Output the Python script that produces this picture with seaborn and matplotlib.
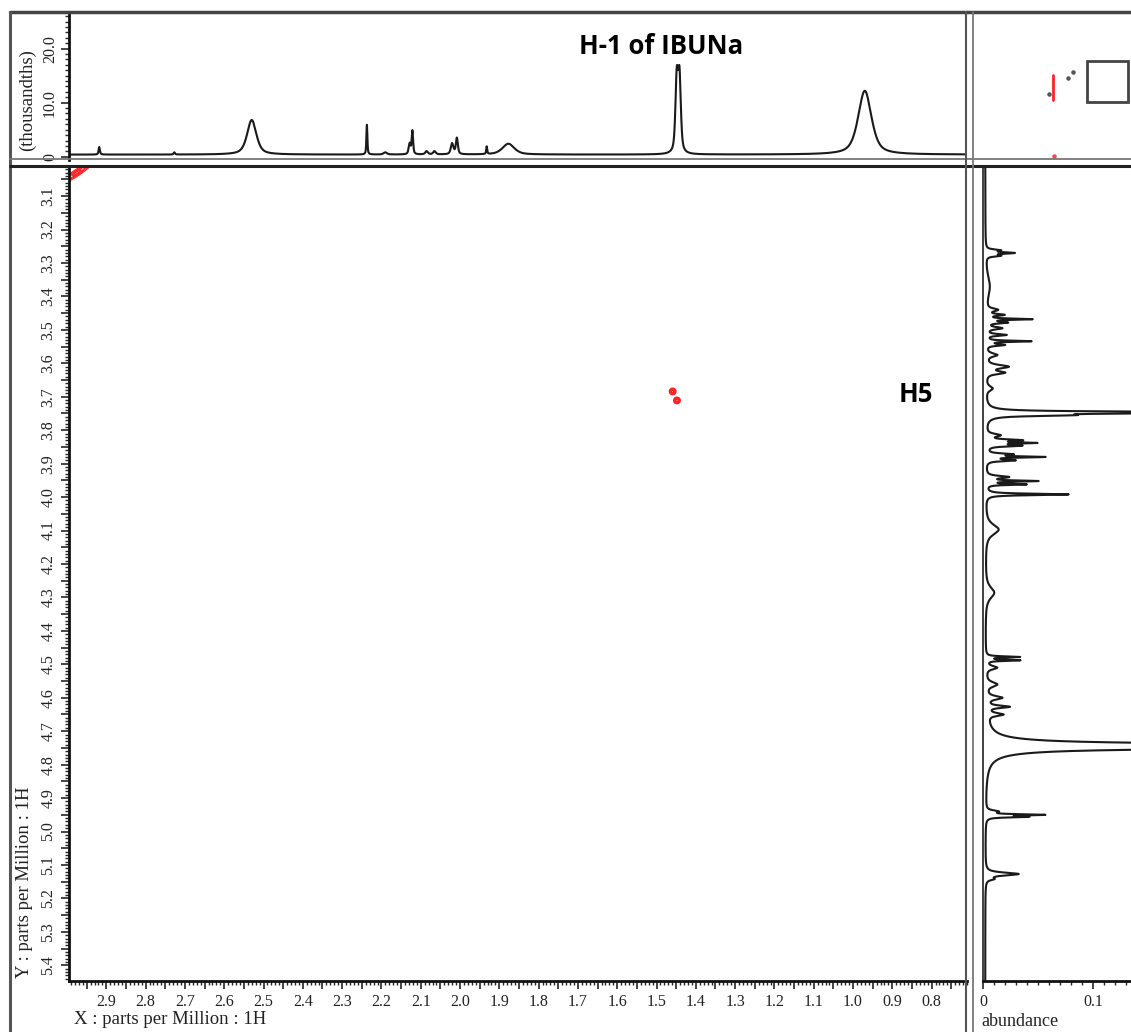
import numpy as np
import pandas as pd
import matplotlib
matplotlib.use("Agg")
import matplotlib.pyplot as plt
from matplotlib.lines import Line2D
from matplotlib.patches import Rectangle
from matplotlib.ticker import MultipleLocator, FuncFormatter
import seaborn as sns

# ---- F2 (horizontal) 1D trace: peak list (ppm, height in thousandths, half width in ppm)
f2_shift = [2.918, 2.727, 2.530, 2.237, 2.190, 2.128, 2.121, 2.085, 2.065,
            2.020, 2.008, 1.932, 1.877, 1.4485, 1.4415, 0.970]
f2_height = [1.4, 0.4, 6.4, 5.5, 0.4, 2.0, 4.3, 0.6, 0.6,
             2.0, 3.0, 1.4, 2.0, 13.6, 13.6, 11.8]
f2_width = [0.002, 0.002, 0.014, 0.0015, 0.005, 0.003, 0.002, 0.004, 0.004,
            0.004, 0.003, 0.0015, 0.018, 0.004, 0.004, 0.02]
f2_baseline = 0.4

# ---- F1 (vertical) 1D trace: peak list (ppm, abundance, half width in ppm)
f1_shift = [3.262, 3.270, 3.278, 3.370,
            3.440, 3.455, 3.468, 3.478, 3.495, 3.515, 3.534, 3.545,
            3.575, 3.610, 3.628, 3.675,
            3.747, 3.755,
            3.815, 3.830, 3.838, 3.846,
            3.872, 3.880, 3.890,
            3.940, 3.952, 3.962, 3.992,
            4.097, 4.286,
            4.478, 4.488, 4.510, 4.560, 4.600, 4.627, 4.650,
            4.745,
            4.940, 4.950, 4.956,
            5.127, 5.142]
f1_height = [0.012, 0.024, 0.012, 0.004,
             0.010, 0.015, 0.040, 0.018, 0.014, 0.018, 0.040, 0.016,
             0.010, 0.020, 0.016, 0.006,
             0.300, 0.060,
             0.012, 0.030, 0.040, 0.030,
             0.022, 0.050, 0.025,
             0.020, 0.045, 0.035, 0.075,
             0.012, 0.008,
             0.030, 0.030, 0.010, 0.010, 0.014, 0.020, 0.014,
             0.600,
             0.010, 0.050, 0.035,
             0.030, 0.006]
f1_width = [0.003, 0.0025, 0.003, 0.04,
            0.005, 0.003, 0.002, 0.003, 0.004, 0.003, 0.002, 0.003,
            0.006, 0.006, 0.005, 0.008,
            0.0025, 0.003,
            0.005, 0.003, 0.002, 0.003,
            0.003, 0.002, 0.003,
            0.004, 0.002, 0.002, 0.0025,
            0.018, 0.02,
            0.002, 0.002, 0.006, 0.008, 0.006, 0.004, 0.005,
            0.006,
            0.004, 0.002, 0.002,
            0.005, 0.004]
f1_baseline = 0.002

# ---- 2D cross peaks (F2 ppm, F1 ppm, relative intensity, widths)
cross_f2 = [1.459, 1.448]
cross_f1 = [3.684, 3.711]
cross_amp = [1.0, 1.0]
cross_sig_f2 = [0.005, 0.005]
cross_sig_f1 = [0.0058, 0.0058]

# diagonal ridge in the upper left corner (centre F2, centre F1, direction)
diag_f2 = [2.975]
diag_f1 = [3.030]
diag_dir = [(0.056, 0.045)]

# overview thumbnail (axes fraction units)
thumb_red_x = [0.50, 0.50]
thumb_red_y = [0.41, 0.58]
thumb_red_dot_x = [0.505]
thumb_red_dot_y = [0.03]
thumb_dot_x = [0.475, 0.595, 0.63]
thumb_dot_y = [0.455, 0.565, 0.60]
thumb_view = (0.72, 0.40, 0.26, 0.28)

annotations = ["H-1 of IBUNa", "H5"]

# ---------------------------------------------------------------------
sns.set_theme(style="white")
plt.rcParams["font.family"] = ["Liberation Serif", "DejaVu Serif"]
plt.rcParams["axes.linewidth"] = 1.8

W, H = 1131, 1032
fig = plt.figure(figsize=(W / 100, H / 100), dpi=100)
fig.patch.set_facecolor("white")


def frame(l, t, r, b):
    return [l / W, 1 - b / H, (r - l) / W, (b - t) / H]


def fpt(x, y):
    return x / W, 1 - y / H


def lineshape(ppm, centers, heights, widths, eta):
    out = np.zeros_like(ppm)
    for c, h, w in zip(centers, heights, widths):
        lor = 1.0 / (1.0 + ((ppm - c) / w) ** 2)
        gau = np.exp(-np.log(2) * ((ppm - c) / w) ** 2)
        out += h * (eta * lor + (1 - eta) * gau)
    return out


X_LIM = (2.995, 0.71)
Y_LIM = (5.447, 3.01)

ax_main = fig.add_axes(frame(69, 166, 967, 981))
ax_top = fig.add_axes(frame(69, 14, 967, 160))
ax_side = fig.add_axes(frame(983, 166, 1131, 981))
ax_thumb = fig.add_axes(frame(975, 14, 1131, 160))

TICK_SIZE = 11.5
TITLE_SIZE = 13.5
ANNOT_SIZE = 18.5

# ---- top trace
ppm2 = np.arange(0.70, 3.0, 0.0002)
top_df = pd.DataFrame({"ppm": ppm2,
                       "intensity": f2_baseline + lineshape(ppm2, f2_shift, f2_height, f2_width, 0.6)})
sns.lineplot(data=top_df, x="ppm", y="intensity", ax=ax_top, color="#1a1a1a",
             linewidth=1.5, estimator=None, sort=False)
ax_top.set_xlim(*X_LIM)
ax_top.set_ylim(-0.6, 26.4)
ax_top.set_xlabel("")
ax_top.set_ylabel("")
ax_top.set_xticks([])
ax_top.yaxis.set_major_locator(MultipleLocator(10))
ax_top.yaxis.set_minor_locator(MultipleLocator(1))
ax_top.yaxis.set_major_formatter(FuncFormatter(lambda v, p: "0" if abs(v) < 1e-9 else f"{v:.1f}"))
ax_top.tick_params(axis="y", which="major", direction="out", length=6, width=1.2, pad=2, left=True,
                   labelsize=TICK_SIZE, labelcolor="#222222")
ax_top.tick_params(axis="y", which="minor", direction="out", length=3, width=1.0, left=True)
for lab in ax_top.get_yticklabels():
    lab.set_rotation(90)
    lab.set_va("center")
for s in ["top", "right", "bottom"]:
    ax_top.spines[s].set_visible(False)
ax_top.spines["left"].set_color("#111111")
ax_top.spines["left"].set_linewidth(2)
ax_top.text(1.489, 20.4, annotations[0], ha="center", va="center",
            fontsize=ANNOT_SIZE, fontweight="bold", family=["Open Sans", "DejaVu Sans"], color="black")

# ---- side trace
ppm1 = np.arange(3.0, 5.46, 0.0002)
side_df = pd.DataFrame({"ppm": ppm1,
                        "abundance": f1_baseline + lineshape(ppm1, f1_shift, f1_height, f1_width, 0.85)})
sns.lineplot(data=side_df, x="abundance", y="ppm", ax=ax_side, color="#1a1a1a",
             linewidth=1.5, estimator=None, sort=False, orient="y")
ax_side.set_ylim(*Y_LIM)
ax_side.set_xlim(0, 0.1345)
ax_side.set_xlabel("")
ax_side.set_ylabel("")
ax_side.set_yticks([])
ax_side.xaxis.set_major_locator(MultipleLocator(0.1))
ax_side.xaxis.set_minor_locator(MultipleLocator(0.01))
ax_side.xaxis.set_major_formatter(FuncFormatter(lambda v, p: "0" if abs(v) < 1e-9 else f"{v:.1f}"))
ax_side.tick_params(axis="x", which="major", direction="out", length=6, width=1.2, pad=3, bottom=True,
                    labelsize=TICK_SIZE, labelcolor="#222222")
ax_side.tick_params(axis="x", which="minor", direction="out", length=3, width=1.0, bottom=True)
for s in ["top", "right"]:
    ax_side.spines[s].set_visible(False)
ax_side.spines["left"].set_color("#333333")
ax_side.spines["left"].set_linewidth(1.3)
ax_side.spines["bottom"].set_color("#111111")
ax_side.spines["bottom"].set_linewidth(2)

# ---- 2D map
ax_main.set_xlim(*X_LIM)
ax_main.set_ylim(*Y_LIM)
gx = np.arange(1.40, 1.52, 0.0004)
gy = np.arange(3.64, 3.76, 0.0004)
GX, GY = np.meshgrid(gx, gy)
Z = np.zeros_like(GX)
for cx, cy, a, sx, sy in zip(cross_f2, cross_f1, cross_amp, cross_sig_f2, cross_sig_f1):
    Z += a * np.exp(-0.5 * (((GX - cx) / sx) ** 2 + ((GY - cy) / sy) ** 2))
ax_main.contour(GX, GY, Z, levels=np.linspace(0.25, 0.85, 4), colors="#ff2222", linewidths=1.0)

dx = np.arange(2.88, 3.06, 0.0004)
dy = np.arange(2.97, 3.10, 0.0004)
DX, DY = np.meshgrid(dx, dy)
D = np.zeros_like(DX)
for cx, cy, (ux, uy) in zip(diag_f2, diag_f1, diag_dir):
    n = np.hypot(ux, uy)
    ux, uy = ux / n, uy / n
    along = (DX - cx) * ux + (DY - cy) * uy
    across = -(DX - cx) * uy + (DY - cy) * ux
    D += np.exp(-0.5 * (along / 0.03) ** 2 - 0.5 * (across / 0.005) ** 2)
ax_main.contour(DX, DY, D, levels=[0.2, 0.45, 0.7, 0.9], colors="#ff2222", linewidths=0.9)

ax_main.xaxis.set_major_locator(MultipleLocator(0.05))
ax_main.xaxis.set_minor_locator(MultipleLocator(0.01))
ax_main.yaxis.set_major_locator(MultipleLocator(0.05))
ax_main.yaxis.set_minor_locator(MultipleLocator(0.01))
tenth = lambda v, p: f"{v:.1f}" if abs(v * 10 - round(v * 10)) < 1e-6 else ""
ax_main.xaxis.set_major_formatter(FuncFormatter(tenth))
ax_main.yaxis.set_major_formatter(FuncFormatter(tenth))
ax_main.tick_params(which="major", direction="out", length=6, width=1.2, pad=3,
                    bottom=True, left=True, labelsize=TICK_SIZE, labelcolor="#222222")
ax_main.tick_params(which="minor", direction="out", length=3, width=1.0, bottom=True, left=True)
for lab in ax_main.get_yticklabels():
    lab.set_rotation(90)
    lab.set_va("center")
ax_main.spines["right"].set_visible(False)
ax_main.spines["top"].set_visible(False)
for s in ["left", "bottom"]:
    ax_main.spines[s].set_color("#111111")
    ax_main.spines[s].set_linewidth(2)
ax_main.text(0.841, 3.693, annotations[1], ha="center", va="center",
             fontsize=ANNOT_SIZE, fontweight="bold", family=["Open Sans", "DejaVu Sans"], color="black")

# ---- overview thumbnail
ax_thumb.set_xlim(0, 1)
ax_thumb.set_ylim(0, 1)
ax_thumb.axis("off")
ax_thumb.plot(thumb_red_x, thumb_red_y, color="#ff2222", lw=2)
ax_thumb.scatter(thumb_red_dot_x, thumb_red_dot_y, s=5, color="#ff4444")
ax_thumb.scatter(thumb_dot_x, thumb_dot_y, s=5, color="#555555")
ax_thumb.add_patch(Rectangle(thumb_view[:2], thumb_view[2], thumb_view[3],
                             fill=False, edgecolor="#444444", lw=2))

# ---- axis titles
fig.text(*fpt(74, 1020), "X : parts per Million : 1H", ha="left", va="center",
         fontsize=TITLE_SIZE, color="#222222")
fig.text(*fpt(25, 978), "Y : parts per Million : 1H", ha="center", va="bottom",
         rotation=90, fontsize=TITLE_SIZE, color="#222222")
fig.text(*fpt(27, 100), "(thousandths)", ha="center", va="center",
         rotation=90, fontsize=TITLE_SIZE, color="#222222")
fig.text(*fpt(981, 1022), "abundance", ha="left", va="center",
         fontsize=13, color="#222222")

# ---- panel frame lines
def fline(x0, y0, x1, y1, color, lw):
    a, b = fpt(x0, y0)
    c, d = fpt(x1, y1)
    fig.add_artist(Line2D([a, c], [b, d], color=color, lw=lw, transform=fig.transFigure))

fline(10, 12, 1131, 12, "#444444", 2.5)
fline(10, 12, 10, 1032, "#555555", 2.2)
fline(10, 159, 1131, 159, "#777777", 1.3)
fline(10, 166, 1131, 166, "#222222", 2.2)
fline(966, 12, 966, 1032, "#555555", 1.5)
fline(973, 12, 973, 1032, "#777777", 1.3)

fig.savefig("out.png", dpi=100, facecolor="white")
